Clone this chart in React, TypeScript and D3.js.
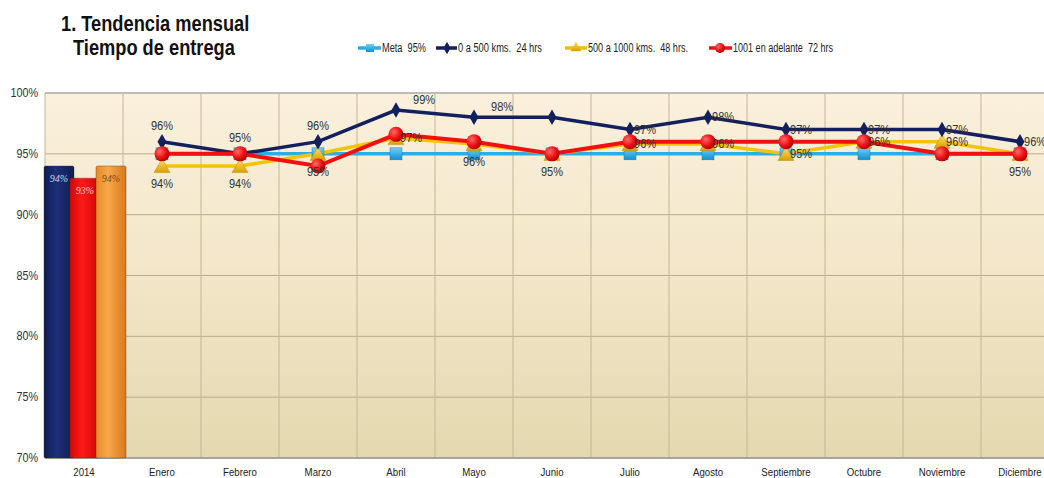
import React from "react";
import * as d3 from "d3";

const W = 1044;
const H = 478;
const margin = { top: 93, left: 45, bottom: 20 };
const bandW = 78;

const categories = ["2014", "Enero", "Febrero", "Marzo", "Abril", "Mayo", "Junio", "Julio", "Agosto", "Septiembre", "Octubre", "Noviembre", "Diciembre"];
const months = categories.slice(1);
const yTicks = [70, 75, 80, 85, 90, 95, 100];

// annual 2014 bars
const barKeys = ["0 a 500", "500 a 1000", "1001"];
const barValues = [94, 93, 94];
const barLabels = ["94%", "93%", "94%"];

const meta = [95, 95, 95, 95, 95, 95, 95, 95, 95, 95, 95, 95];
const km500 = [96, 95, 96, 98.6, 98, 98, 97, 98, 97, 97, 97, 96];
const km1000 = [94, 94, 95, 96.3, 95.8, 95, 95.8, 95.8, 95, 96, 96, 95];
const km1001 = [95, 95, 94, 96.6, 96, 95, 96, 96, 96, 96, 95, 95];

const labels500 = ["96%", "95%", "96%", "99%", "98%", "", "97%", "98%", "97%", "97%", "97%", "96%"];
const labels1000 = ["94%", "94%", "95%", "97%", "96%", "95%", "96%", "96%", "95%", "96%", "96%", "95%"];
// where the labels sit: a = above, b = below, r = right
const place500 = ["a", "a", "a", "ar", "ar", "a", "r", "r", "r", "r", "r", "r"];
const place1000 = ["b", "b", "b", "r", "b", "b", "r", "r", "r", "r", "r", "b"];

const legendNames = ["Meta\u00a0\u00a095%", "0 a 500 kms.\u00a0\u00a024 hrs", "500 a 1000 kms.\u00a0\u00a048 hrs.", "1001 en adelante\u00a0\u00a072 hrs"];

const font = "'Liberation Sans', Arial, sans-serif";

const x = d3.scaleBand().domain(categories).range([margin.left, margin.left + categories.length * bandW]).padding(0);
const y = d3.scaleLinear().domain([70, 100]).range([458, margin.top]);
const cx = (m: string) => (x(m) as number) + x.bandwidth() / 2;

const lineGen = d3.line<[number, number]>();
const pts = (vals: number[]) => months.map((m, i) => [cx(m), y(vals[i])] as [number, number]);

function labelPos(px: number, py: number, p: string) {
  if (p === "a") return { x: px, y: py - 12, anchor: "middle" };
  if (p === "b") return { x: px, y: py + 22, anchor: "middle" };
  if (p === "ar") return { x: px + 17, y: py - 6, anchor: "start" };
  return { x: px + 4, y: py + 4, anchor: "start" };
}

// condensed text, like Arial Narrow
function Narrow(props: any) {
  const { x, y, sx = 0.84, children, ...rest } = props;
  return (
    <text transform={`translate(${x},${y}) scale(${sx},1)`} {...rest}>
      {children}
    </text>
  );
}

export default function App() {
  const barBand = d3.scaleBand().domain(barKeys).range([44, 122]).padding(0);
  const barColors = ["url(#gNavy)", "url(#gRed)", "url(#gOrange)"];
  const barText = ["#c8d0f0", "#ffc0c0", "#7a4a10"];

  const diamond = d3.symbol().type(d3.symbolDiamond).size(70)();
  const tri = d3.symbol().type(d3.symbolTriangle).size(110)();

  return (
    <svg width={W} height={H} style={{ position: "absolute", left: 0, top: 0, background: "#fff" }}>
      <defs>
        <linearGradient id="plotBg" x1="0" y1="0" x2="0" y2="1">
          <stop offset="0" stopColor="#faf0dc" />
          <stop offset="0.5" stopColor="#f3e6c8" />
          <stop offset="1" stopColor="#e4d8b0" />
        </linearGradient>
        <linearGradient id="gNavy" x1="0" y1="0" x2="1" y2="0">
          <stop offset="0" stopColor="#0d1a55" />
          <stop offset="0.4" stopColor="#1e2f78" />
          <stop offset="1" stopColor="#111c58" />
        </linearGradient>
        <linearGradient id="gRed" x1="0" y1="0" x2="1" y2="0">
          <stop offset="0" stopColor="#d00808" />
          <stop offset="0.4" stopColor="#ff1a1a" />
          <stop offset="1" stopColor="#c80505" />
        </linearGradient>
        <linearGradient id="gOrange" x1="0" y1="0" x2="1" y2="0">
          <stop offset="0" stopColor="#e8882a" />
          <stop offset="0.4" stopColor="#f7a848" />
          <stop offset="1" stopColor="#d87a20" />
        </linearGradient>
        <radialGradient id="gBall" cx="0.35" cy="0.35" r="0.7">
          <stop offset="0" stopColor="#ff6a6a" />
          <stop offset="0.6" stopColor="#ee1010" />
          <stop offset="1" stopColor="#b00000" />
        </radialGradient>
        <linearGradient id="gTri" x1="0" y1="0" x2="0" y2="1">
          <stop offset="0" stopColor="#ffe070" />
          <stop offset="1" stopColor="#d8a000" />
        </linearGradient>
        <linearGradient id="gSq" x1="0" y1="0" x2="0" y2="1">
          <stop offset="0" stopColor="#70d0f8" />
          <stop offset="1" stopColor="#1090d0" />
        </linearGradient>
      </defs>

      {/* title */}
      <Narrow x={61} y={31} sx={0.83} fontFamily={font} fontWeight="bold" fontSize={22} fill="#111">1. Tendencia mensual</Narrow>
      <Narrow x={73} y={55} sx={0.83} fontFamily={font} fontWeight="bold" fontSize={22} fill="#111">Tiempo de entrega</Narrow>

      {/* legend */}
      <g fontFamily={font} fontSize={12} fill="#222">
        <line x1={358} x2={381} y1={48} y2={48} stroke="#2aaee8" strokeWidth={3.5} />
        <rect x={366} y={44} width={8} height={8} fill="url(#gSq)" />
        <text x={382} y={52} textLength={44} lengthAdjust="spacingAndGlyphs">{legendNames[0]}</text>
        <line x1={436} x2={457} y1={48} y2={48} stroke="#13205e" strokeWidth={3.5} />
        <path d={diamond} transform="translate(447,48) scale(0.8)" fill="#13205e" />
        <text x={458} y={52} textLength={84} lengthAdjust="spacingAndGlyphs">{legendNames[1]}</text>
        <line x1={565} x2={587} y1={48} y2={48} stroke="#f0c000" strokeWidth={3.5} />
        <path d={tri} transform="translate(576,48) scale(0.7)" fill="url(#gTri)" />
        <text x={588} y={52} textLength={100} lengthAdjust="spacingAndGlyphs">{legendNames[2]}</text>
        <line x1={709} x2={732} y1={48} y2={48} stroke="#f01010" strokeWidth={3.5} />
        <circle cx={720} cy={48} r={5} fill="url(#gBall)" />
        <text x={733} y={52} textLength={100} lengthAdjust="spacingAndGlyphs">{legendNames[3]}</text>
      </g>

      {/* plot area */}
      <rect x={margin.left} y={y(100)} width={W - margin.left} height={y(70) - y(100)} fill="url(#plotBg)" />
      {yTicks.map((t) => (
        <line key={"h" + t} x1={margin.left} x2={W} y1={y(t)} y2={y(t)} stroke={t === 100 ? "#a8a8a8" : "#b8ad8c"} strokeWidth={t === 100 ? 1.5 : 1} />
      ))}
      {categories.map((c) => (
        <line key={"v" + c} x1={x(c) as number} x2={x(c) as number} y1={y(100)} y2={y(70)} stroke="#c2b795" strokeWidth={1} />
      ))}
      <line x1={margin.left} x2={W} y1={y(70)} y2={y(70)} stroke="#999" strokeWidth={1.5} />

      {/* y axis labels */}
      <g fontFamily={font} fontSize={12} fill="#333" textAnchor="end">
        {yTicks.map((t) => (
          <Narrow key={"yl" + t} x={38} y={y(t) + 4} sx={0.9}>{t}%</Narrow>
        ))}
      </g>

      {/* x axis labels */}
      <g fontFamily={font} fontSize={11.5} fill="#222" textAnchor="middle">
        {categories.map((c) => (
          <Narrow key={"xl" + c} x={cx(c)} y={476} sx={0.84}>{c}</Narrow>
        ))}
      </g>

      {/* 2014 bars */}
      {barKeys.map((k, i) => {
        const bx = barBand(k) as number;
        const bw = barBand.bandwidth() + 4;
        return (
          <g key={"bar" + k}>
            <rect x={bx} y={y(barValues[i])} width={bw} height={y(70) - y(barValues[i])} fill={barColors[i]} stroke="#3a2a10" strokeOpacity={0.35} rx={1.5} />
            <text x={bx + bw / 2} y={y(barValues[i]) + 16} textAnchor="middle" fontFamily="'Liberation Serif', serif" fontStyle="italic" fontSize={10} fill={barText[i]}>{barLabels[i]}</text>
          </g>
        );
      })}

      {/* lines */}
      <path d={lineGen(pts(meta)) as string} fill="none" stroke="#2aaee8" strokeWidth={3.5} />
      <path d={lineGen(pts(km1000)) as string} fill="none" stroke="#f5c400" strokeWidth={3.5} />
      <path d={lineGen(pts(km500)) as string} fill="none" stroke="#13205e" strokeWidth={3.5} />
      <path d={lineGen(pts(km1001)) as string} fill="none" stroke="#f01010" strokeWidth={4} />

      {/* markers */}
      {pts(meta).map(([px, py], i) => (
        <rect key={"sq" + i} x={px - 6} y={py - 6} width={12} height={12} fill="url(#gSq)" stroke="#1a80b8" strokeWidth={0.5} />
      ))}
      {pts(km1000).map(([px, py], i) => (
        <path key={"tr" + i} d={tri} transform={`translate(${px},${py + 2})`} fill="url(#gTri)" stroke="#c09000" strokeWidth={0.5} />
      ))}
      {pts(km500).map(([px, py], i) => (
        <path key={"dm" + i} d={diamond} transform={`translate(${px},${py})`} fill="#13205e" />
      ))}
      {pts(km1001).map(([px, py], i) => (
        <circle key={"ci" + i} cx={px} cy={py} r={7.5} fill="url(#gBall)" />
      ))}

      {/* data labels */}
      <g fontFamily={font} fontSize={12} fill="#333">
        {pts(km500).map(([px, py], i) => {
          const p = labelPos(px, py, place500[i]);
          return labels500[i] ? (
            <Narrow key={"l5" + i} x={p.x} y={p.y} sx={0.92} textAnchor={p.anchor}>{labels500[i]}</Narrow>
          ) : null;
        })}
        {pts(km1000).map(([px, py], i) => {
          const p = labelPos(px, py, place1000[i]);
          return (
            <Narrow key={"l1" + i} x={p.x} y={p.y} sx={0.92} textAnchor={p.anchor}>{labels1000[i]}</Narrow>
          );
        })}
      </g>
    </svg>
  );
}
